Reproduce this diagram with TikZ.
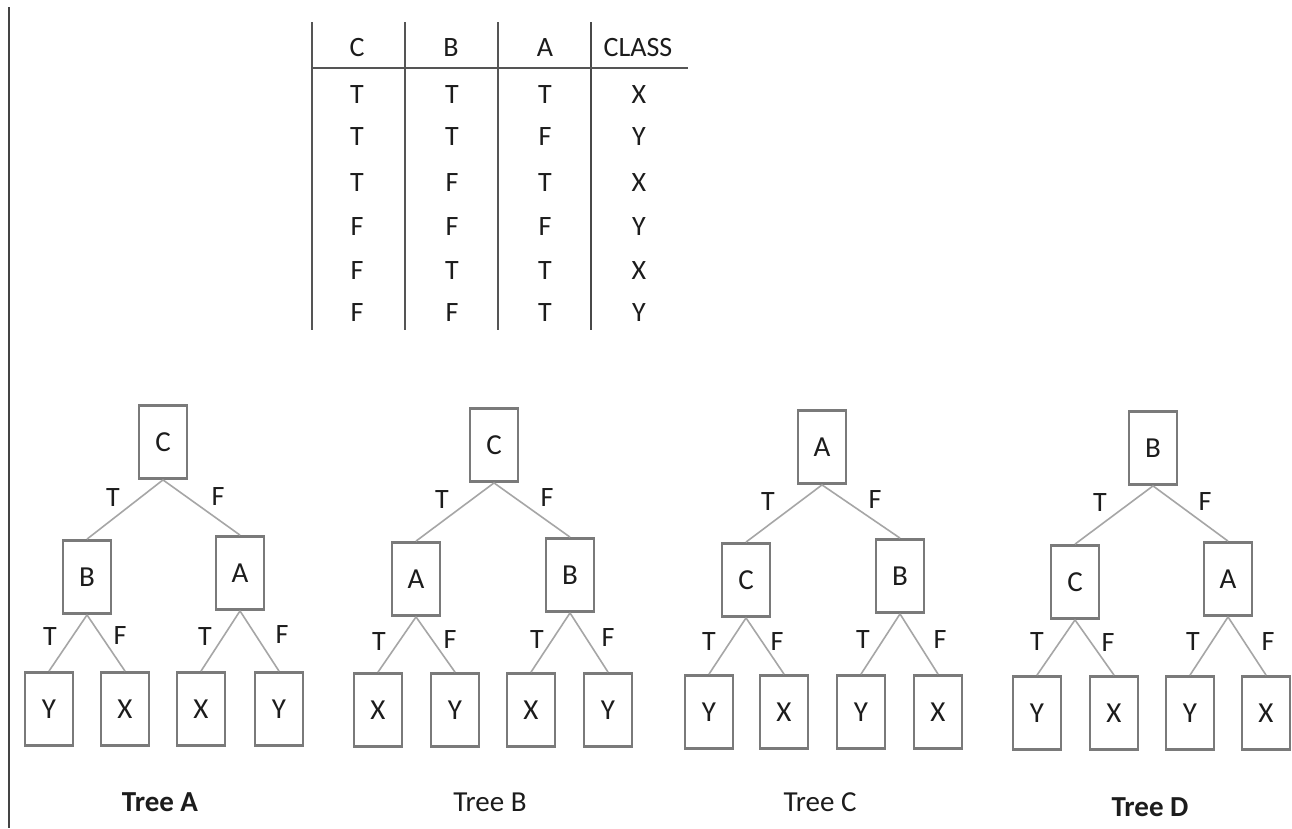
\documentclass[tikz,border=0pt]{standalone}
\usepackage{fontspec}
\setmainfont{Carlito}
\definecolor{boxgray}{HTML}{7A7A7A}
\definecolor{edgegray}{HTML}{A6A6A6}
\definecolor{txt}{HTML}{1C1C1C}
\definecolor{rule}{HTML}{555555}
\begin{document}
\begin{tikzpicture}[x=1pt,y=-1pt,
  box/.style={draw=boxgray, line width=2.8pt, minimum width=48pt, minimum height=73pt, inner sep=0pt, text=txt, font=\fontsize{29}{34}\selectfont},
  edge/.style={draw=edgegray, line width=1.6pt},
  lbl/.style={text=txt, inner sep=0pt, font=\fontsize{28}{34}\selectfont},
  cell/.style={text=txt, inner sep=0pt, font=\fontsize{28}{34}\selectfont},
  title/.style={text=txt, inner sep=0pt, font=\fontsize{29}{34}\selectfont},
  tline/.style={draw=rule, line width=2.2pt}]
\useasboundingbox[fill=white] (0,0) rectangle (1292,828);
% left border
\coordinate (L1) at (9,7);
\coordinate (L2) at (9,828);
\draw[draw=rule!80!black, line width=2.4pt] (L1) -- (L2);

% ---------- table ----------
\coordinate (v1t) at (312,22); \coordinate (v1b) at (312,330);
\coordinate (v2t) at (405,22); \coordinate (v2b) at (405,330);
\coordinate (v3t) at (498,22); \coordinate (v3b) at (498,330);
\coordinate (v4t) at (591,22); \coordinate (v4b) at (591,330);
\coordinate (hl) at (312,68); \coordinate (hr) at (688,68);
\draw[tline] (v1t) -- (v1b);
\draw[tline] (v2t) -- (v2b);
\draw[tline] (v3t) -- (v3b);
\draw[tline, line width=2.8pt, draw=rule!85!black] (v4t) -- (v4b);
\draw[tline, line width=1.6pt] (hl) -- (hr);
\node[cell] (hC) at (357,48) {C};
\node[cell] (hB) at (451,48) {B};
\node[cell] (hA) at (545,48) {A};
\node[cell] (hK) at (638,48) {CLASS};
\foreach \y/\c/\b/\a/\k [count=\i] in {95/T/T/T/X,137/T/T/F/Y,183/T/F/T/X,227/F/F/F/Y,271/F/T/T/X,313/F/F/T/Y}{
  \node[cell] (r\i c) at (357,\y) {\c};
  \node[cell] (r\i b) at (452,\y) {\b};
  \node[cell] (r\i a) at (545,\y) {\a};
  \node[cell] (r\i k) at (639,\y) {\k};
}

% ---------- Tree A ----------
\node[box] (Ar) at (163,442) {C};
\node[box] (Al) at (87,577) {B};
\node[box] (Ag) at (240,573) {A};
\node[box] (A1) at (49,709) {Y};
\node[box] (A2) at (125,709) {X};
\node[box] (A3) at (201,709) {X};
\node[box] (A4) at (279,709) {Y};
\draw[edge] (Ar.south) -- (Al.north);
\draw[edge] (Ar.south) -- (Ag.north);
\draw[edge] (Al.south) -- (A1.north);
\draw[edge] (Al.south) -- (A2.north);
\draw[edge] (Ag.south) -- (A3.north);
\draw[edge] (Ag.south) -- (A4.north);
\node[lbl] (AT0) at (113,498) {T};
\node[lbl] (AF0) at (218,497) {F};
\node[lbl] (AT1) at (50,637) {T};
\node[lbl] (AF1) at (120,636) {F};
\node[lbl] (AT2) at (205,637) {T};
\node[lbl] (AF2) at (282,635) {F};
\node[title, font=\fontsize{29}{34}\selectfont\bfseries] (At) at (160,802) {Tree A};

% ---------- Tree B ----------
\node[box] (Br) at (494,445) {C};
\node[box] (Bl) at (416,579) {A};
\node[box] (Bg) at (570,575) {B};
\node[box] (B1) at (378,710) {X};
\node[box] (B2) at (455,710) {Y};
\node[box] (B3) at (531,710) {X};
\node[box] (B4) at (608,710) {Y};
\draw[edge] (Br.south) -- (Bl.north);
\draw[edge] (Br.south) -- (Bg.north);
\draw[edge] (Bl.south) -- (B1.north);
\draw[edge] (Bl.south) -- (B2.north);
\draw[edge] (Bg.south) -- (B3.north);
\draw[edge] (Bg.south) -- (B4.north);
\node[lbl] (BT0) at (442,500) {T};
\node[lbl] (BF0) at (547,498) {F};
\node[lbl] (BT1) at (379,642) {T};
\node[lbl] (BF1) at (450,640) {F};
\node[lbl] (BT2) at (537,640) {T};
\node[lbl] (BF2) at (608,638) {F};
\node[title] (Bt) at (490,802) {Tree B};

% ---------- Tree C ----------
\node[box] (Cr) at (822,447) {A};
\node[box] (Cl) at (746,580) {C};
\node[box] (Cg) at (900,576) {B};
\node[box] (C1) at (709,712) {Y};
\node[box] (C2) at (784,712) {X};
\node[box] (C3) at (861,712) {Y};
\node[box] (C4) at (938,712) {X};
\draw[edge] (Cr.south) -- (Cl.north);
\draw[edge] (Cr.south) -- (Cg.north);
\draw[edge] (Cl.south) -- (C1.north);
\draw[edge] (Cl.south) -- (C2.north);
\draw[edge] (Cg.south) -- (C3.north);
\draw[edge] (Cg.south) -- (C4.north);
\node[lbl] (CT0) at (768,502) {T};
\node[lbl] (CF0) at (875,500) {F};
\node[lbl] (CT1) at (709,642) {T};
\node[lbl] (CF1) at (777,642) {F};
\node[lbl] (CT2) at (863,640) {T};
\node[lbl] (CF2) at (940,640) {F};
\node[title] (Ct) at (820,802) {Tree C};

% ---------- Tree D ----------
\node[box] (Dr) at (1153,448) {B};
\node[box] (Dl) at (1075,582) {C};
\node[box] (Dg) at (1228,579) {A};
\node[box] (D1) at (1037,713) {Y};
\node[box] (D2) at (1114,713) {X};
\node[box] (D3) at (1190,713) {Y};
\node[box] (D4) at (1266,713) {X};
\draw[edge] (Dr.south) -- (Dl.north);
\draw[edge] (Dr.south) -- (Dg.north);
\draw[edge] (Dl.south) -- (D1.north);
\draw[edge] (Dl.south) -- (D2.north);
\draw[edge] (Dg.south) -- (D3.north);
\draw[edge] (Dg.south) -- (D4.north);
\node[lbl] (DT0) at (1100,503) {T};
\node[lbl] (DF0) at (1205,502) {F};
\node[lbl] (DT1) at (1037,642) {T};
\node[lbl] (DF1) at (1108,643) {F};
\node[lbl] (DT2) at (1193,642) {T};
\node[lbl] (DF2) at (1268,642) {F};
\node[title, font=\fontsize{29}{34}\selectfont\bfseries] (Dt) at (1150,807) {Tree D};
\end{tikzpicture}
\end{document}
